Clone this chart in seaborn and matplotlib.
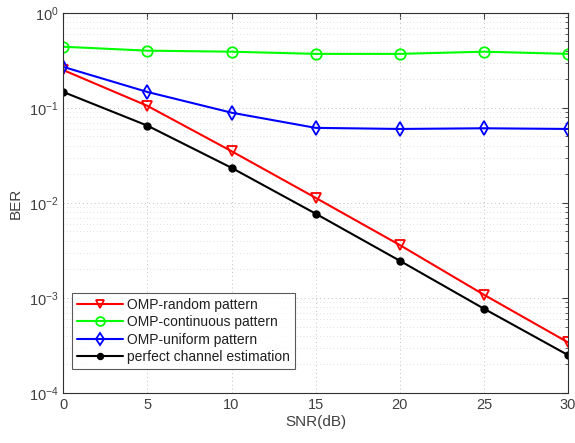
import matplotlib
matplotlib.use("Agg")
import matplotlib.pyplot as plt
import seaborn as sns
import numpy as np
import pandas as pd
from matplotlib.ticker import LogLocator, NullFormatter, FixedLocator

snr = [0, 5, 10, 15, 20, 25, 30]
ber_random = [0.25, 0.105, 0.035, 0.0113, 0.0036, 0.00108, 0.00034]
ber_continuous = [0.44, 0.40, 0.39, 0.37, 0.37, 0.39, 0.37]
ber_uniform = [0.27, 0.147, 0.089, 0.0616, 0.060, 0.061, 0.060]
ber_perfect = [0.147, 0.065, 0.0234, 0.0077, 0.00246, 0.00077, 0.00025]

labels = ["OMP-random pattern", "OMP-continuous pattern",
          "OMP-uniform pattern", "perfect channel estimation"]
colors = ["#ff0000", "#00ff00", "#0000ff", "#000000"]

sns.set_style("white")
plt.rcParams['font.family'] = ['Liberation Sans', 'DejaVu Sans']

fig = plt.figure(figsize=(5.75, 4.43), dpi=100)
ax = fig.add_axes([0.11, 0.113, 0.878, 0.858])

series = [ber_random, ber_continuous, ber_uniform, ber_perfect]
markers = ["v", "o", "d", "o"]
for vals, lab, col, mk in zip(series, labels, colors, markers):
    df = pd.DataFrame({"SNR": snr, "BER": vals})
    if lab.startswith("perfect"):
        sns.lineplot(data=df, x="SNR", y="BER", ax=ax, color=col, marker="o",
                     markersize=4.5, markerfacecolor=col, markeredgecolor=col,
                     markeredgewidth=1.5, linewidth=1.5, label=lab)
    else:
        sns.lineplot(data=df, x="SNR", y="BER", ax=ax, color=col, marker=mk,
                     markersize=7.5, markerfacecolor="none", markeredgecolor=col,
                     markeredgewidth=1.3, linewidth=1.5, label=lab)

ax.set_yscale("log")
ax.set_xlim(0, 30)
ax.set_ylim(1e-4, 1)
ax.set_xticks([0, 5, 10, 15, 20, 25, 30])
ax.yaxis.set_major_locator(FixedLocator([1e-4, 1e-3, 1e-2, 1e-1, 1]))
ax.yaxis.set_minor_locator(LogLocator(base=10, subs=np.arange(2, 10), numticks=20))
ax.yaxis.set_minor_formatter(NullFormatter())

tc = "#404040"
ax.tick_params(axis="both", which="both", direction="in", top=True, right=True,
               colors=tc, labelsize=10.5)
ax.tick_params(axis="both", which="major", length=4)
ax.tick_params(axis="both", which="minor", length=2)
for s in ax.spines.values():
    s.set_color("#303030")
    s.set_linewidth(0.8)

ax.grid(True, which="major", linestyle=(0, (1, 3)), color="#c0c0c0", linewidth=0.7)
ax.grid(True, which="minor", axis="y", linestyle=(0, (1, 3)), color="#d8d8d8", linewidth=0.6)

ax.set_xlabel("SNR(dB)", color=tc, fontsize=11, labelpad=2)
ax.set_ylabel("BER", color=tc, fontsize=11, labelpad=4)

leg = ax.legend(loc="lower left", bbox_to_anchor=(0.004, 0.045), fontsize=10,
                frameon=True, fancybox=False, edgecolor="#303030",
                handlelength=3.3, borderpad=0.35, labelspacing=0.25,
                handletextpad=0.3, markerscale=0.85)
leg.get_frame().set_linewidth(0.8)
for t in leg.get_texts():
    t.set_color("#202020")

fig.savefig("out.png", dpi=100)
